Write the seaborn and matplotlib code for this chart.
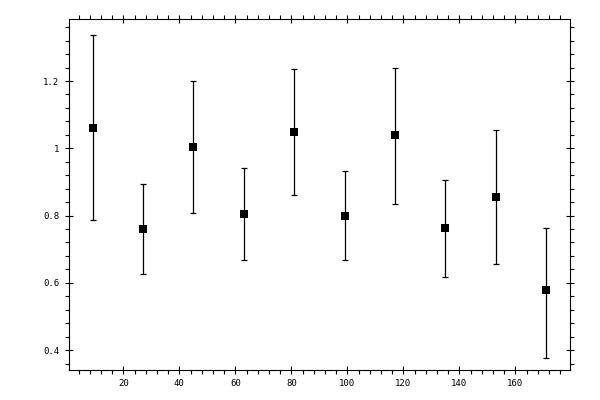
import numpy as np
import pandas as pd
import matplotlib
matplotlib.use("Agg")
import matplotlib.pyplot as plt
from matplotlib.ticker import MultipleLocator, FuncFormatter
import seaborn as sns

# Data
x_vals = [9, 27, 45, 63, 81, 99, 117, 135, 153, 171]
y_vals = [1.060, 0.761, 1.003, 0.804, 1.048, 0.800, 1.039, 0.762, 0.854, 0.578]
err_low = [0.274, 0.136, 0.196, 0.137, 0.188, 0.133, 0.206, 0.146, 0.199, 0.201]
err_high = [0.276, 0.134, 0.196, 0.137, 0.187, 0.133, 0.201, 0.143, 0.200, 0.184]

x_major = [20, 40, 60, 80, 100, 120, 140, 160]
y_major = [0.4, 0.6, 0.8, 1.0, 1.2]

df = pd.DataFrame({"x": x_vals, "y": y_vals})

sns.set_theme(style="white")
plt.rcParams['font.family'] = ['DejaVu Sans Mono', 'DejaVu Sans']

fig = plt.figure(figsize=(6, 4), dpi=100)
ax = fig.add_axes([69.3 / 600, 1 - 370.3 / 400, (570.3 - 69.3) / 600, (370.3 - 19.3) / 400])

ax.errorbar(df["x"], df["y"], yerr=[err_low, err_high], fmt="none",
            ecolor="black", elinewidth=0.9, capsize=2.4, capthick=0.9, zorder=2)
sns.scatterplot(data=df, x="x", y="y", marker="s", s=26, color="black",
                edgecolor="black", linewidth=0, ax=ax, zorder=3)

ax.set_xlim(0.71, 179.64)
ax.set_ylim(0.3398, 1.3836)
ax.set_xticks(x_major)
ax.set_yticks(y_major)
ax.xaxis.set_minor_locator(MultipleLocator(4))
ax.yaxis.set_minor_locator(MultipleLocator(0.04))
ax.yaxis.set_major_formatter(FuncFormatter(lambda v, p: "%g" % round(v, 3)))
ax.xaxis.set_major_formatter(FuncFormatter(lambda v, p: "%g" % v))
ax.set_xlabel("")
ax.set_ylabel("")

for s in ax.spines.values():
    s.set_visible(True)
    s.set_color("black")
    s.set_linewidth(0.8)

ax.tick_params(which="major", direction="inout", length=5.8, width=0.8,
               color="black", top=True, right=True, bottom=True, left=True,
               labelsize=6.5, labelcolor="black")
ax.tick_params(which="minor", direction="out", length=2.6, width=0.8,
               color="black", top=True, right=True, bottom=True, left=True)
ax.tick_params(axis="x", which="major", pad=3.2)
ax.tick_params(axis="y", which="major", pad=4.2)
ax.grid(False)
ax.set_facecolor("white")
fig.patch.set_facecolor("white")

fig.savefig("out.png", dpi=100)
